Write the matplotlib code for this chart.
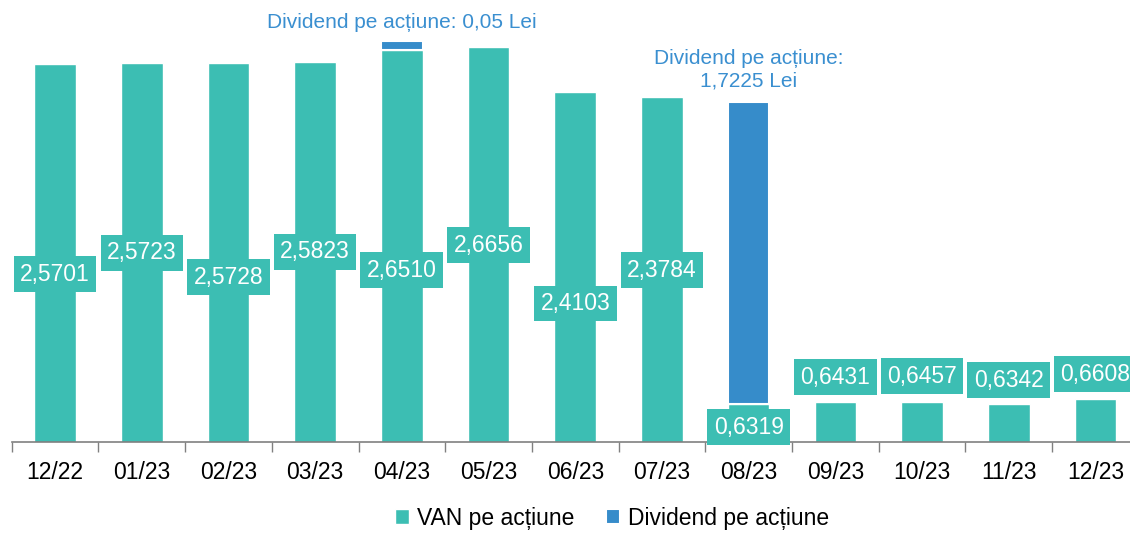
import numpy as np
import matplotlib
matplotlib.use('Agg')
from matplotlib import pyplot as plt

plt.rcParams['font.family'] = ['Liberation Sans', 'DejaVu Sans']

months = ['12/22', '01/23', '02/23', '03/23', '04/23', '05/23', '06/23',
          '07/23', '08/23', '09/23', '10/23', '11/23', '12/23']
van = [2.5701, 2.5723, 2.5728, 2.5823, 2.6510, 2.6656, 2.4103,
       2.3784, 0.6319, 0.6431, 0.6457, 0.6342, 0.6608]
dividend = [0, 0, 0, 0, 0.05, 0, 0, 0, 1.7225, 0, 0, 0, 0]
van_labels = ['2,5701', '2,5723', '2,5728', '2,5823', '2,6510', '2,6656', '2,4103',
              '2,3784', '0,6319', '0,6431', '0,6457', '0,6342', '0,6608']
# vertical placement of the value labels (data units), as moved by hand in the original
label_y = [1.372, 1.492, 1.355, 1.498, 1.395, 1.537, 1.204,
           1.395, 0.500, 0.785, 0.791, 0.768, 0.802]

teal = '#3cbeb3'
blue = '#368cca'
note_color = '#3a8fd0'

fig = plt.figure(figsize=(11.3, 5.33), dpi=100)
ax = fig.add_axes([11.7 / 1130, 91 / 533, 13 * 86.7 / 1130, 442 / 533])

x = np.arange(len(months))
ax.bar(x, van, width=0.48, color=teal, edgecolor='white', linewidth=1.0,
       label='VAN pe acțiune')
div_x = [i for i in x if dividend[i] > 0]
ax.bar(div_x, [dividend[i] for i in div_x], bottom=[van[i] for i in div_x],
       width=0.48, color=blue, edgecolor='white', linewidth=1.5,
       label='Dividend pe acțiune')

for i in x:
    ax.text(i, label_y[i], van_labels[i], ha='center', va='center',
            color='white', fontsize=16.5,
            bbox=dict(boxstyle='square,pad=0.28', facecolor=teal, edgecolor='none'))

ax.text(4, 2.808, 'Dividend pe acțiune: 0,05 Lei', ha='center', va='center',
        color=note_color, fontsize=15)
ax.text(8, 2.535, 'Dividend pe acțiune:\n1,7225 Lei', ha='center', va='center',
        color=note_color, fontsize=15, linespacing=1.25)

ax.set_xlim(-0.5, len(months) - 0.5)
ax.set_ylim(0.415, 0.415 + 442 / 175.5)

for s in ['top', 'right', 'left']:
    ax.spines[s].set_visible(False)
ax.spines['bottom'].set_color('#808080')
ax.spines['bottom'].set_linewidth(1.2)
ax.set_yticks([])
ax.set_xticks(np.arange(-0.5, len(months), 1.0), minor=False)
ax.set_xticklabels([])
ax.set_xticks(x, minor=True)
ax.set_xticklabels(months, minor=True, fontsize=16.5)
ax.tick_params(axis='x', which='major', length=7, color='#808080', width=1)
ax.tick_params(axis='x', which='minor', length=0, pad=14)

fig.legend(loc='center', bbox_to_anchor=(612 / 1130, 1 - 518 / 533), ncol=2,
           frameon=False, fontsize=16.5, handlelength=0.6, handleheight=0.6,
           handletextpad=0.35, columnspacing=1.4)

fig.savefig('out.png', dpi=100)
